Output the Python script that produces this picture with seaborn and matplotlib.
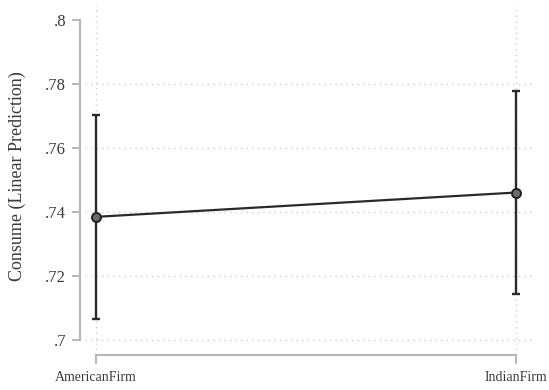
import matplotlib
matplotlib.use("Agg")
import matplotlib.pyplot as plt
import seaborn as sns
import pandas as pd

# Predictive margins of consumption by firm origin, with 95% CIs
categories = ["AmericanFirm", "IndianFirm"]
margins = [0.7385, 0.7461]
ci_low = [0.7067, 0.7144]
ci_high = [0.7704, 0.7779]
y_ticks = [0.70, 0.72, 0.74, 0.76, 0.78, 0.80]
y_tick_labels = [".7", ".72", ".74", ".76", ".78", ".8"]
y_grid = [0.70, 0.72, 0.74, 0.76, 0.78]

sns.set_theme(style="white")
plt.rcParams["font.family"] = ["Liberation Serif", "DejaVu Serif"]

df = pd.DataFrame({"pos": range(len(categories)), "firm": categories,
                   "margin": margins, "lo": ci_low, "hi": ci_high})

fig = plt.figure(figsize=(5.49, 3.90), dpi=100)
ax = fig.add_axes([0.1548, 0.1026, 0.8142, 0.8846])

line_col = "#2a2a2a"
axis_col = "#b8b8b8"
grid_col = "#cdcdcd"
text_col = "#3a3a3a"

# Dotted grid lines
ax.grid(False)
for yv in y_grid:
    ax.axhline(yv, color=grid_col, linestyle=(0, (1, 3)), linewidth=1.0,
               zorder=1)
for xv in df["pos"]:
    ax.axvline(xv, color=grid_col, linestyle=(0, (1, 3)), linewidth=1.0,
               zorder=1)

# Confidence intervals
ax.errorbar(df["pos"], df["margin"],
            yerr=[df["margin"] - df["lo"], df["hi"] - df["margin"]],
            fmt="none", ecolor=line_col, elinewidth=1.7, capsize=3,
            capthick=1.7, zorder=3)

# Point estimates joined by a line
sns.lineplot(data=df, x="pos", y="margin", ax=ax, color=line_col,
             linewidth=1.6, marker="o", markersize=6.5,
             markerfacecolor="#6a6a6a", markeredgecolor="#222222",
             markeredgewidth=1.4, zorder=4)

ax.set_xlim(-0.0262, 1.0381)
ax.set_ylim(0.6969, 0.8047)

ax.set_yticks(y_ticks)
ax.set_yticklabels(y_tick_labels)
ax.set_xticks(df["pos"])
ax.set_xticklabels(categories)

for side in ("top", "right"):
    ax.spines[side].set_visible(False)
for side in ("left", "bottom"):
    ax.spines[side].set_color(axis_col)
    ax.spines[side].set_linewidth(1.6)
    ax.spines[side].set_position(("outward", 3.6))
ax.spines["left"].set_bounds(0.70, 0.80)
ax.spines["bottom"].set_bounds(0, 1)

ax.tick_params(axis="y", direction="out", length=6, width=1.4,
               color=axis_col, labelsize=12, labelcolor=text_col, pad=4,
               left=True)
ax.tick_params(axis="x", direction="out", length=6.5, width=1.4,
               color=axis_col, labelsize=10, labelcolor=text_col, pad=5,
               bottom=True)

ax.set_xlabel("")
ax.set_ylabel("Consume (Linear Prediction)", fontsize=13, color=text_col)
ax.yaxis.set_label_coords(-0.132, 0.505)

fig.savefig("out.png", dpi=100, facecolor="white")
